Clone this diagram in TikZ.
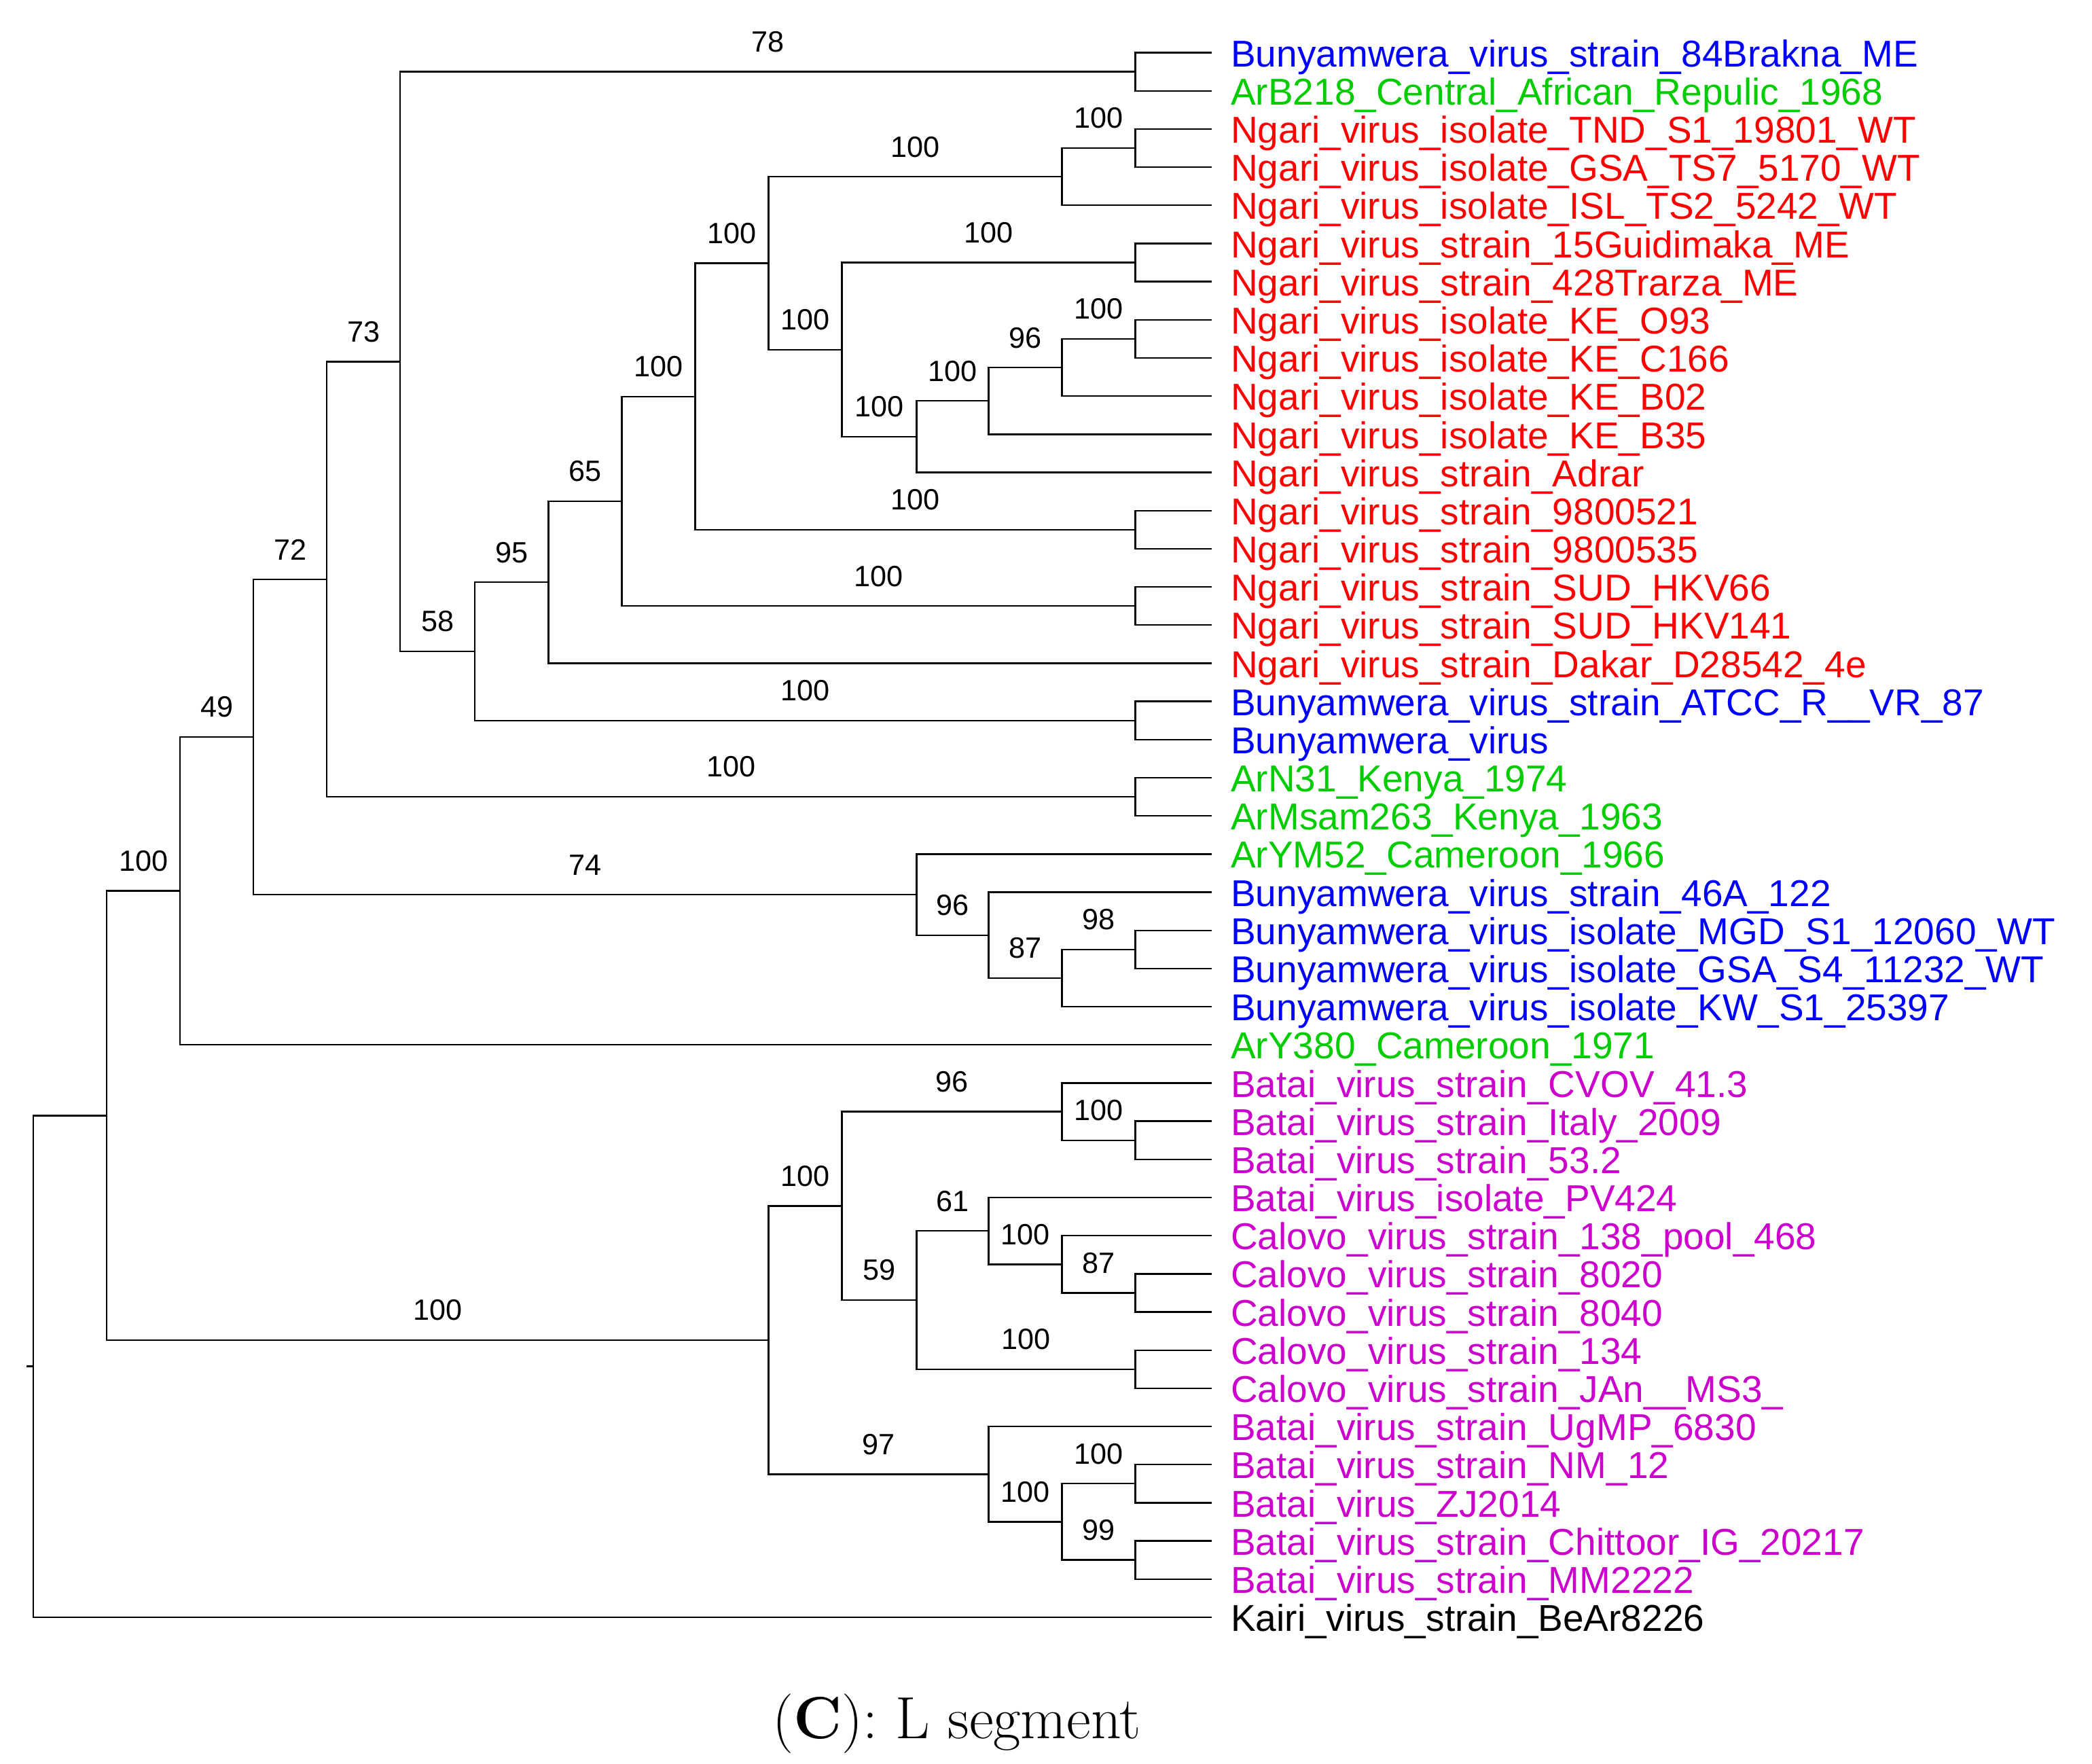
\documentclass[tikz,border=0pt]{standalone}
\usepackage{fontspec}
\newfontfamily\arialfont{Liberation Sans}
\definecolor{bunyacol}{RGB}{0,0,255}
\definecolor{ngaricol}{RGB}{255,0,0}
\definecolor{arcol}{RGB}{0,204,0}
\definecolor{bataicol}{RGB}{204,0,204}

\begin{document}
\begin{tikzpicture}[x=0.5pt, y=-0.5pt, line width=0.6pt]
        \tikzstyle{leaf}=[anchor=west, inner xsep=7pt, inner ysep=0pt, text height=10.5pt, text depth=0pt, font=\fontsize{14}{14}\arialfont]
        \tikzstyle{boot}=[pos=0.75, above=7pt, inner sep=0pt, font=\fontsize{11}{11}\arialfont]
        \useasboundingbox (0,0) rectangle (1568,1322);
        % leaves
        \node[leaf, text=bunyacol] (l1) at (908,39.5) {Bunyamwera\_virus\_strain\_84Brakna\_ME};
        \node[leaf, text=arcol] (l2) at (908,68.1) {ArB218\_Central\_African\_Repulic\_1968};
        \node[leaf, text=ngaricol] (l3) at (908,96.7) {Ngari\_virus\_isolate\_TND\_S1\_19801\_WT};
        \node[leaf, text=ngaricol] (l4) at (908,125.3) {Ngari\_virus\_isolate\_GSA\_TS7\_5170\_WT};
        \node[leaf, text=ngaricol] (l5) at (908,153.9) {Ngari\_virus\_isolate\_ISL\_TS2\_5242\_WT};
        \node[leaf, text=ngaricol] (l6) at (908,182.5) {Ngari\_virus\_strain\_15Guidimaka\_ME};
        \node[leaf, text=ngaricol] (l7) at (908,211.1) {Ngari\_virus\_strain\_428Trarza\_ME};
        \node[leaf, text=ngaricol] (l8) at (908,239.7) {Ngari\_virus\_isolate\_KE\_O93};
        \node[leaf, text=ngaricol] (l9) at (908,268.3) {Ngari\_virus\_isolate\_KE\_C166};
        \node[leaf, text=ngaricol] (l10) at (908,296.9) {Ngari\_virus\_isolate\_KE\_B02};
        \node[leaf, text=ngaricol] (l11) at (908,325.5) {Ngari\_virus\_isolate\_KE\_B35};
        \node[leaf, text=ngaricol] (l12) at (908,354.1) {Ngari\_virus\_strain\_Adrar};
        \node[leaf, text=ngaricol] (l13) at (908,382.7) {Ngari\_virus\_strain\_9800521};
        \node[leaf, text=ngaricol] (l14) at (908,411.3) {Ngari\_virus\_strain\_9800535};
        \node[leaf, text=ngaricol] (l15) at (908,439.9) {Ngari\_virus\_strain\_SUD\_HKV66};
        \node[leaf, text=ngaricol] (l16) at (908,468.5) {Ngari\_virus\_strain\_SUD\_HKV141};
        \node[leaf, text=ngaricol] (l17) at (908,497.1) {Ngari\_virus\_strain\_Dakar\_D28542\_4e};
        \node[leaf, text=bunyacol] (l18) at (908,525.7) {Bunyamwera\_virus\_strain\_ATCC\_R\_\_VR\_87};
        \node[leaf, text=bunyacol] (l19) at (908,554.3) {Bunyamwera\_virus};
        \node[leaf, text=arcol] (l20) at (908,582.9) {ArN31\_Kenya\_1974};
        \node[leaf, text=arcol] (l21) at (908,611.5) {ArMsam263\_Kenya\_1963};
        \node[leaf, text=arcol] (l22) at (908,640.1) {ArYM52\_Cameroon\_1966};
        \node[leaf, text=bunyacol] (l23) at (908,668.7) {Bunyamwera\_virus\_strain\_46A\_122};
        \node[leaf, text=bunyacol] (l24) at (908,697.3) {Bunyamwera\_virus\_isolate\_MGD\_S1\_12060\_WT};
        \node[leaf, text=bunyacol] (l25) at (908,725.9) {Bunyamwera\_virus\_isolate\_GSA\_S4\_11232\_WT};
        \node[leaf, text=bunyacol] (l26) at (908,754.5) {Bunyamwera\_virus\_isolate\_KW\_S1\_25397};
        \node[leaf, text=arcol] (l27) at (908,783.1) {ArY380\_Cameroon\_1971};
        \node[leaf, text=bataicol] (l28) at (908,811.7) {Batai\_virus\_strain\_CVOV\_41.3};
        \node[leaf, text=bataicol] (l29) at (908,840.3) {Batai\_virus\_strain\_Italy\_2009};
        \node[leaf, text=bataicol] (l30) at (908,868.9) {Batai\_virus\_strain\_53.2};
        \node[leaf, text=bataicol] (l31) at (908,897.5) {Batai\_virus\_isolate\_PV424};
        \node[leaf, text=bataicol] (l32) at (908,926.1) {Calovo\_virus\_strain\_138\_pool\_468};
        \node[leaf, text=bataicol] (l33) at (908,954.7) {Calovo\_virus\_strain\_8020};
        \node[leaf, text=bataicol] (l34) at (908,983.3) {Calovo\_virus\_strain\_8040};
        \node[leaf, text=bataicol] (l35) at (908,1011.9) {Calovo\_virus\_strain\_134};
        \node[leaf, text=bataicol] (l36) at (908,1040.5) {Calovo\_virus\_strain\_JAn\_\_MS3\_};
        \node[leaf, text=bataicol] (l37) at (908,1069.1) {Batai\_virus\_strain\_UgMP\_6830};
        \node[leaf, text=bataicol] (l38) at (908,1097.7) {Batai\_virus\_strain\_NM\_12};
        \node[leaf, text=bataicol] (l39) at (908,1126.3) {Batai\_virus\_ZJ2014};
        \node[leaf, text=bataicol] (l40) at (908,1154.9) {Batai\_virus\_strain\_Chittoor\_IG\_20217};
        \node[leaf, text=bataicol] (l41) at (908,1183.5) {Batai\_virus\_strain\_MM2222};
        \node[leaf] (l42) at (908,1212.1) {Kairi\_virus\_strain\_BeAr8226};
        % internal nodes
        \coordinate (n12) at (851,53.8);
        \coordinate (n34) at (851,111.0);
        \coordinate (n35) at (796,132.5);
        \coordinate (n67) at (851,196.8);
        \coordinate (n89) at (851,254.0);
        \coordinate (n810) at (796,275.5);
        \coordinate (n811) at (741,300.5);
        \coordinate (n812) at (687,327.3);
        \coordinate (n612) at (631,262.1);
        \coordinate (n312) at (576,197.3);
        \coordinate (n1314) at (851,397.0);
        \coordinate (n314) at (521,297.2);
        \coordinate (n1516) at (851,454.2);
        \coordinate (n316) at (466,375.7);
        \coordinate (n317) at (411,436.4);
        \coordinate (n1819) at (851,540.0);
        \coordinate (n319) at (356,488.2);
        \coordinate (n119) at (300,271.0);
        \coordinate (n2021) at (851,597.2);
        \coordinate (n121) at (245,434.1);
        \coordinate (n2425) at (851,711.6);
        \coordinate (n2426) at (796,733.1);
        \coordinate (n2326) at (741,700.9);
        \coordinate (n2226) at (687,670.5);
        \coordinate (n126) at (190,552.3);
        \coordinate (n127) at (135,667.7);
        \coordinate (n2930) at (851,854.6);
        \coordinate (n2830) at (796,833.2);
        \coordinate (n3334) at (851,969.0);
        \coordinate (n3234) at (796,947.6);
        \coordinate (n3134) at (741,922.6);
        \coordinate (n3536) at (851,1026.2);
        \coordinate (n3136) at (687,974.4);
        \coordinate (n2836) at (631,903.8);
        \coordinate (n3839) at (851,1112.0);
        \coordinate (n4041) at (851,1169.2);
        \coordinate (n3841) at (796,1140.6);
        \coordinate (n3741) at (741,1104.9);
        \coordinate (n2841) at (576,1004.4);
        \coordinate (n141) at (80,836.1);
        \coordinate (root) at (25,1024.1);
        \coordinate (stub) at (20,1024.1);
        % branches
        \draw (stub) -- (root);
        \draw (root) |- (n141); \draw (root) |- (l42);
        \draw (n141) |- node[boot] {100} (n127); \draw (n141) |- node[boot] {100} (n2841);
        \draw (n127) |- node[boot] {49} (n126); \draw (n127) |- (l27);
        \draw (n126) |- node[boot] {72} (n121); \draw (n126) |- node[boot] {74} (n2226);
        \draw (n121) |- node[boot] {73} (n119); \draw (n121) |- node[boot] {100} (n2021);
        \draw (n119) |- node[boot] {78} (n12); \draw (n119) |- node[boot] {58} (n319);
        \draw (n12) |- (l1); \draw (n12) |- (l2);
        \draw (n319) |- node[boot] {95} (n317); \draw (n319) |- node[boot] {100} (n1819);
        \draw (n317) |- node[boot] {65} (n316); \draw (n317) |- (l17);
        \draw (n316) |- node[boot] {100} (n314); \draw (n316) |- node[boot] {100} (n1516);
        \draw (n314) |- node[boot] {100} (n312); \draw (n314) |- node[boot] {100} (n1314);
        \draw (n312) |- node[boot] {100} (n35); \draw (n312) |- node[boot] {100} (n612);
        \draw (n35) |- node[boot] {100} (n34); \draw (n35) |- (l5);
        \draw (n34) |- (l3); \draw (n34) |- (l4);
        \draw (n612) |- node[boot] {100} (n67); \draw (n612) |- node[boot] {100} (n812);
        \draw (n67) |- (l6); \draw (n67) |- (l7);
        \draw (n812) |- node[boot] {100} (n811); \draw (n812) |- (l12);
        \draw (n811) |- node[boot] {96} (n810); \draw (n811) |- (l11);
        \draw (n810) |- node[boot] {100} (n89); \draw (n810) |- (l10);
        \draw (n89) |- (l8); \draw (n89) |- (l9);
        \draw (n1314) |- (l13); \draw (n1314) |- (l14);
        \draw (n1516) |- (l15); \draw (n1516) |- (l16);
        \draw (n1819) |- (l18); \draw (n1819) |- (l19);
        \draw (n2021) |- (l20); \draw (n2021) |- (l21);
        \draw (n2226) |- (l22); \draw (n2226) |- node[boot] {96} (n2326);
        \draw (n2326) |- (l23); \draw (n2326) |- node[boot] {87} (n2426);
        \draw (n2426) |- node[boot] {98} (n2425); \draw (n2426) |- (l26);
        \draw (n2425) |- (l24); \draw (n2425) |- (l25);
        \draw (n2841) |- node[boot] {100} (n2836); \draw (n2841) |- node[boot] {97} (n3741);
        \draw (n2836) |- node[boot] {96} (n2830); \draw (n2836) |- node[boot] {59} (n3136);
        \draw (n2830) |- (l28); \draw (n2830) |- node[boot] {100} (n2930);
        \draw (n2930) |- (l29); \draw (n2930) |- (l30);
        \draw (n3136) |- node[boot] {61} (n3134); \draw (n3136) |- node[boot] {100} (n3536);
        \draw (n3134) |- (l31); \draw (n3134) |- node[boot] {100} (n3234);
        \draw (n3234) |- (l32); \draw (n3234) |- node[boot] {87} (n3334);
        \draw (n3334) |- (l33); \draw (n3334) |- (l34);
        \draw (n3536) |- (l35); \draw (n3536) |- (l36);
        \draw (n3741) |- (l37); \draw (n3741) |- node[boot] {100} (n3841);
        \draw (n3841) |- node[boot] {100} (n3839); \draw (n3841) |- node[boot] {99} (n4041);
        \draw (n3839) |- (l38); \draw (n3839) |- (l39);
        \draw (n4041) |- (l40); \draw (n4041) |- (l41);
        % caption
        \node[anchor=base, inner sep=0pt, font=\fontsize{22.3}{26}\selectfont] (caption) at (717,1303) {(\textbf{C}): L segment};
    \end{tikzpicture}
\end{document}
